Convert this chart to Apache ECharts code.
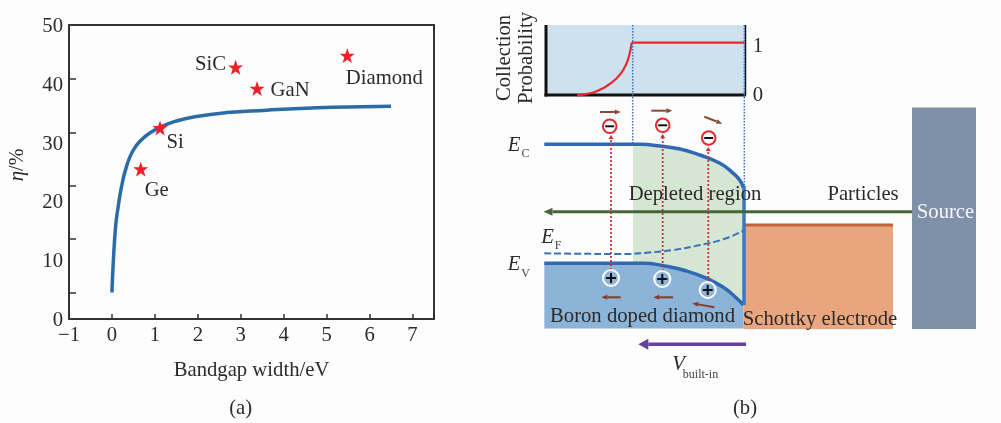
<!DOCTYPE html>
<html><head><meta charset="utf-8">
<style>html,body{margin:0;padding:0;background:#fff}#c{width:1001px;height:423px}</style>
<script src="https://cdn.jsdelivr.net/npm/echarts@6/dist/echarts.min.js"></script>
</head><body><div id="c"></div>
<script>
// ---------- panel (a) data ----------
const curveBandgap = [0,0.03,0.085,0.133,0.226,0.342,0.495,0.69,0.92,1.12,1.47,1.93,2.67,3.6,4.37,5.15,6.5];
const curveEta     = [4.5,9.5,15.7,18.5,22.6,26,28.7,30.5,31.8,32.6,33.6,34.4,35.1,35.5,35.8,36,36.2];
const materials    = ['Ge','Si','SiC','GaN','Diamond'];
const matBandgap   = [0.67,1.12,2.88,3.38,5.48];
const matEta       = [25.5,32.5,42.8,39.2,44.8];
const matLabelOffset = [[16,21.5],[15,14.5],[-25,-3],[33,2],[37,22.5]];
const etaTicks     = [4.48,13.66,22.7,31.7,40.87];
// ---------- panel (b) data (schematic units) ----------
const probPanel = [[546,25,745,95]];
const probRise = [[577,95.3],[590,93.3],[603,88.3],[616.7,78.3],[625,66.7],[629.3,55],[631.7,42.7]];
const probFlat = [[631.7,42.7],[744.3,42.7]];
const conduction = [[544.3,144.3],[640,144.3],[660,146],[680,149],[700,155],[720,163.3],[733.3,173.3],[740,180.5],[743.5,188]];
const valence = [[544.3,263.3],[643.3,263.3],[663.3,265.7],[686.7,271],[706.7,278.3],[723.3,287.3],[735,296.7],[743.6,305]];
const interfaceLine = [[744,186],[744,305]];
const fermi = [[544.3,253.3],[623.3,254],[646.7,252.7],[673.3,250],[700,245],[723.3,239.3],[743.3,230.7]];
const depletedTop = [[633,144.3],[640,144.3],[660,146],[680,149],[700,155],[720,163.3],[733.3,173.3],[740,180.5],[744,188]];
const depletedBottom = [[744,305],[735,296.7],[723.3,287.3],[706.7,278.3],[686.7,271],[663.3,265.7],[643.3,263.3],[633,263.3]];
const boronRegion = [[544.3,263.3],[643.3,263.3],[663.3,265.7],[686.7,271],[706.7,278.3],[723.3,287.3],[735,296.7],[743.6,305],[743.6,328.5],[544.3,328.5]];
const schottkyRect = [[743.5,225,893,329]];
const sourceRect = [[912,107.5,976,329]];
const schottkyTop = [[743.5,225],[893,225]];
const probLeft = [[546,25],[546,96.5]];
const probBottom = [[544.5,95],[746,95]];
const probRight = [[745.5,25],[745.5,95]];
const dividerLeft = [[632.7,25],[632.7,144]];
const dividerRight = [[744.3,25],[744.3,186]];
const electrons = [[609.7,126.3],[662.7,125.3],[708.7,138]];
const holes = [[611,278],[662.3,279],[707.7,290]];
const carrierPaths = [[611,270,611,135],[662.7,271,662.7,134],[708.3,282,708.3,147]];
const electronArrows = [[600,112,620.7,112],[651.3,110.7,672.3,110.7],[704.3,116.7,722.3,123.7]];
const holeArrows = [[620.7,297.3,601.3,297.3],[673,297.3,653.3,297.3],[714.3,307.3,692.3,303.3]];
const particleBeam = [[912,211.7,543.5,211.7]];
const builtInArrow = [[746,344.3,638.3,344.3]];
const mainLabels = [['Boron doped diamond',642.5,315],['Schottky electrode',820,318],['Particles',863,193],['Depleted region',695,193],['1',758,45],['0',758,94],['(a)',240.7,406.7],['(b)',745,406.7]];
const sourceLabel = [['Source',945.5,211]];
const rotatedLabels = [['Collection',503,58],['Probability',525,58]];
const italicLabels = [['E',514,144],['E',547.5,236],['E',514,263],['V',678.5,363]];
const subLabels = [['C',525.5,152],['F',558,244],['V',525.5,272],['built-in',700.5,373]];

const FONT = '"Liberation Serif","Times New Roman",serif';
const INK = '#2b2b2b';
const B = {xAxisIndex:1, yAxisIndex:1};

function rectSeries(rects, color, z){
  return {...B,type:'custom',z:z||2,clip:false,silent:true,data:rects,encode:{x:[0,2],y:[1,3]},
    renderItem(p,api){
      const a=api.coord([api.value(0),api.value(1)]),b=api.coord([api.value(2),api.value(3)]);
      return {type:'rect',shape:{x:a[0],y:a[1],width:b[0]-a[0],height:b[1]-a[1]},style:{fill:color}};
    }};
}
function polySeries(points,color,z){
  return {...B,type:'custom',z:z||2,clip:false,silent:true,data:[points[0]],
    renderItem(p,api){
      return {type:'polygon',shape:{points:points.map(q=>api.coord(q))},style:{fill:color}};
    }};
}
function lineSeries(points,color,width,type,smooth,z){
  return {...B,type:'line',z:z||3,data:points,symbol:'none',smooth:smooth||false,silent:true,
    lineStyle:{color:color,width:width,type:type||'solid',cap:'butt'}};
}
function arrowSeries(list,color,width,headL,headW,dash,z){
  return {...B,type:'custom',z:z||4,clip:false,silent:true,data:list,encode:{x:[0,2],y:[1,3]},
    renderItem(p,api){
      const a=api.coord([api.value(0),api.value(1)]),b=api.coord([api.value(2),api.value(3)]);
      const d=Math.hypot(b[0]-a[0],b[1]-a[1]),ux=(b[0]-a[0])/d,uy=(b[1]-a[1])/d;
      const bx=b[0]-ux*headL,by=b[1]-uy*headL;
      return {type:'group',children:[
        {type:'line',shape:{x1:a[0],y1:a[1],x2:bx,y2:by},style:{stroke:color,lineWidth:width,lineDash:dash||null}},
        {type:'polygon',shape:{points:[b,[bx-uy*headW,by+ux*headW],[bx+uy*headW,by-ux*headW]]},style:{fill:color}}
      ]};
    }};
}
function chargeSeries(list,ring,fill,plus,r){
  const arm=plus?5:4.5;
  return {...B,type:'custom',z:5,clip:false,silent:true,data:list,
    renderItem(p,api){
      const c=api.coord([api.value(0),api.value(1)]);
      const kids=[{type:'circle',shape:{cx:c[0],cy:c[1],r:r},style:{fill:fill,stroke:ring,lineWidth:2}},
        {type:'line',shape:{x1:c[0]-arm,y1:c[1],x2:c[0]+arm,y2:c[1]},style:{stroke:'#111',lineWidth:2}}];
      if(plus) kids.push({type:'line',shape:{x1:c[0],y1:c[1]-arm,x2:c[0],y2:c[1]+arm},style:{stroke:'#111',lineWidth:2}});
      return {type:'group',children:kids};
    }};
}
function textSeries(items,font,color,rot){
  return {...B,type:'custom',z:6,clip:false,silent:true,data:items.map(t=>[t[1],t[2],t[0]]),
    dimensions:[{name:'x',type:'float'},{name:'y',type:'float'},{name:'t',type:'ordinal'}],encode:{x:0,y:1},
    renderItem(p,api){
      const c=api.coord([api.value(0),api.value(1)]);
      return {type:'text',x:c[0]+(rot?1.8:0),y:c[1]+(rot?0:1.8),rotation:rot||0,
        style:{text:items[p.dataIndex][0],font:font,fill:color,align:'center',verticalAlign:'middle'}};
    }};
}

const option={
  animation:false,backgroundColor:'#fdfdfd',
  grid:[{left:69,top:25,width:365,height:294,show:true,borderColor:'#333',borderWidth:2,backgroundColor:'transparent'},
        {left:0,top:0,width:1001,height:423,show:false}],
  xAxis:[{type:'value',gridIndex:0,min:-1,max:7.5,interval:1,
          name:'Bandgap width/eV',nameLocation:'middle',nameGap:41,
          nameTextStyle:{fontFamily:FONT,fontSize:20.7,color:INK},
          axisLine:{show:false,onZero:false},splitLine:{show:false},
          axisTick:{show:true,inside:true,length:5,lineStyle:{color:'#333',width:1.5},customValues:[0,1,2,3,4,5,6,7]},
          axisLabel:{margin:6,fontFamily:FONT,fontSize:20.7,color:INK,
            customValues:[-1,0,1,2,3,4,5,6,7],formatter:v=>String(v).replace('-','\u2212')}},
         {type:'value',gridIndex:1,min:0,max:1001,show:false}],
  yAxis:[{type:'value',gridIndex:0,min:0,max:50,interval:10,
          name:'{i|\u03b7}/%',nameLocation:'middle',nameGap:41,nameRotate:90,
          nameTextStyle:{fontFamily:FONT,fontSize:20,color:INK,padding:[0,0,0,14],rich:{i:{fontFamily:FONT,fontStyle:'italic',fontSize:21,color:INK}}},
          axisLine:{show:false,onZero:false},splitLine:{show:false},
          axisTick:{show:true,inside:true,length:7,lineStyle:{color:'#333',width:1.5},customValues:etaTicks},
          axisLabel:{margin:6,verticalAlign:'top',padding:[-9,0,0,0],fontFamily:FONT,fontSize:20.7,color:INK}},
         {type:'value',gridIndex:1,min:0,max:423,inverse:true,show:false}],
  series:[
    {type:'line',xAxisIndex:0,yAxisIndex:0,z:3,data:curveBandgap.map((x,i)=>[x,curveEta[i]]),symbol:'none',smooth:0.5,silent:true,
     lineStyle:{color:'#2a6ca8',width:3.5}},
    {type:'scatter',xAxisIndex:0,yAxisIndex:0,z:4,symbol:'path://M0,-10 L2.4,-3.1 9.5,-3.1 3.8,1.2 5.9,8.1 0,4 -5.9,8.1 -3.8,1.2 -9.5,-3.1 -2.4,-3.1 Z',symbolSize:15,silent:true,
     itemStyle:{color:'#ee2028',opacity:1},
     data:materials.map((m,i)=>({name:m,value:[matBandgap[i],matEta[i]],
       label:{show:true,position:'inside',offset:matLabelOffset[i],formatter:m,fontFamily:FONT,fontSize:20.7,color:INK}}))},

    rectSeries(probPanel,'#cee1ef',1),
    polySeries(depletedTop.concat(depletedBottom),'#d5e6d2',1),
    polySeries(boronRegion,'#8cb3d8',2),
    rectSeries(schottkyRect,'#e9a57e',2),
    rectSeries(sourceRect,'#7e91a9',2),
    lineSeries(schottkyTop,'#c2623a',3),
    lineSeries(probLeft,'#111',3),
    lineSeries(probBottom,'#111',3),
    lineSeries(probRight,'#111',1.5),
    lineSeries(probRise,'#e8282f',2.2,'solid',0.5),
    lineSeries(probFlat,'#e8282f',2.2),
    lineSeries(dividerLeft,'#3a70c0',1.5,'dotted'),
    lineSeries(dividerRight,'#3a70c0',1.5,'dotted'),
    lineSeries(conduction,'#3068b4',3.5,'solid',0.5),
    lineSeries(valence,'#3068b4',3.5,'solid',0.5),
    lineSeries(interfaceLine,'#3a76c4',3.5),
    lineSeries(fermi,'#3a72bc',2,[7,3],0.5),
    arrowSeries(carrierPaths,'#c8343a',1.8,4,2.5,[2,2]),
    arrowSeries(electronArrows,'#8a4a32',2,6,2.5),
    arrowSeries(holeArrows,'#8a3a28',2,6,2.5),
    arrowSeries(particleBeam,'#46663a',3,9,4),
    arrowSeries(builtInArrow,'#6a3f9f',3.5,10,5.5),
    chargeSeries(electrons,'#e5282e','#fff',false,6.8),
    chargeSeries(holes,'#fff','#8cb3d8',true,8),
    textSeries(mainLabels,'20.7px '+FONT,INK),
    textSeries(sourceLabel,'20.7px '+FONT,'#f4f6f8'),
    textSeries(rotatedLabels,'20.7px '+FONT,INK,Math.PI/2),
    textSeries(italicLabels,'italic 20.7px '+FONT,INK),
    textSeries(subLabels,'12px '+FONT,'#444')
  ]
};
echarts.init(document.getElementById('c'),null,{renderer:'canvas'}).setOption(option);
</script></body></html>
